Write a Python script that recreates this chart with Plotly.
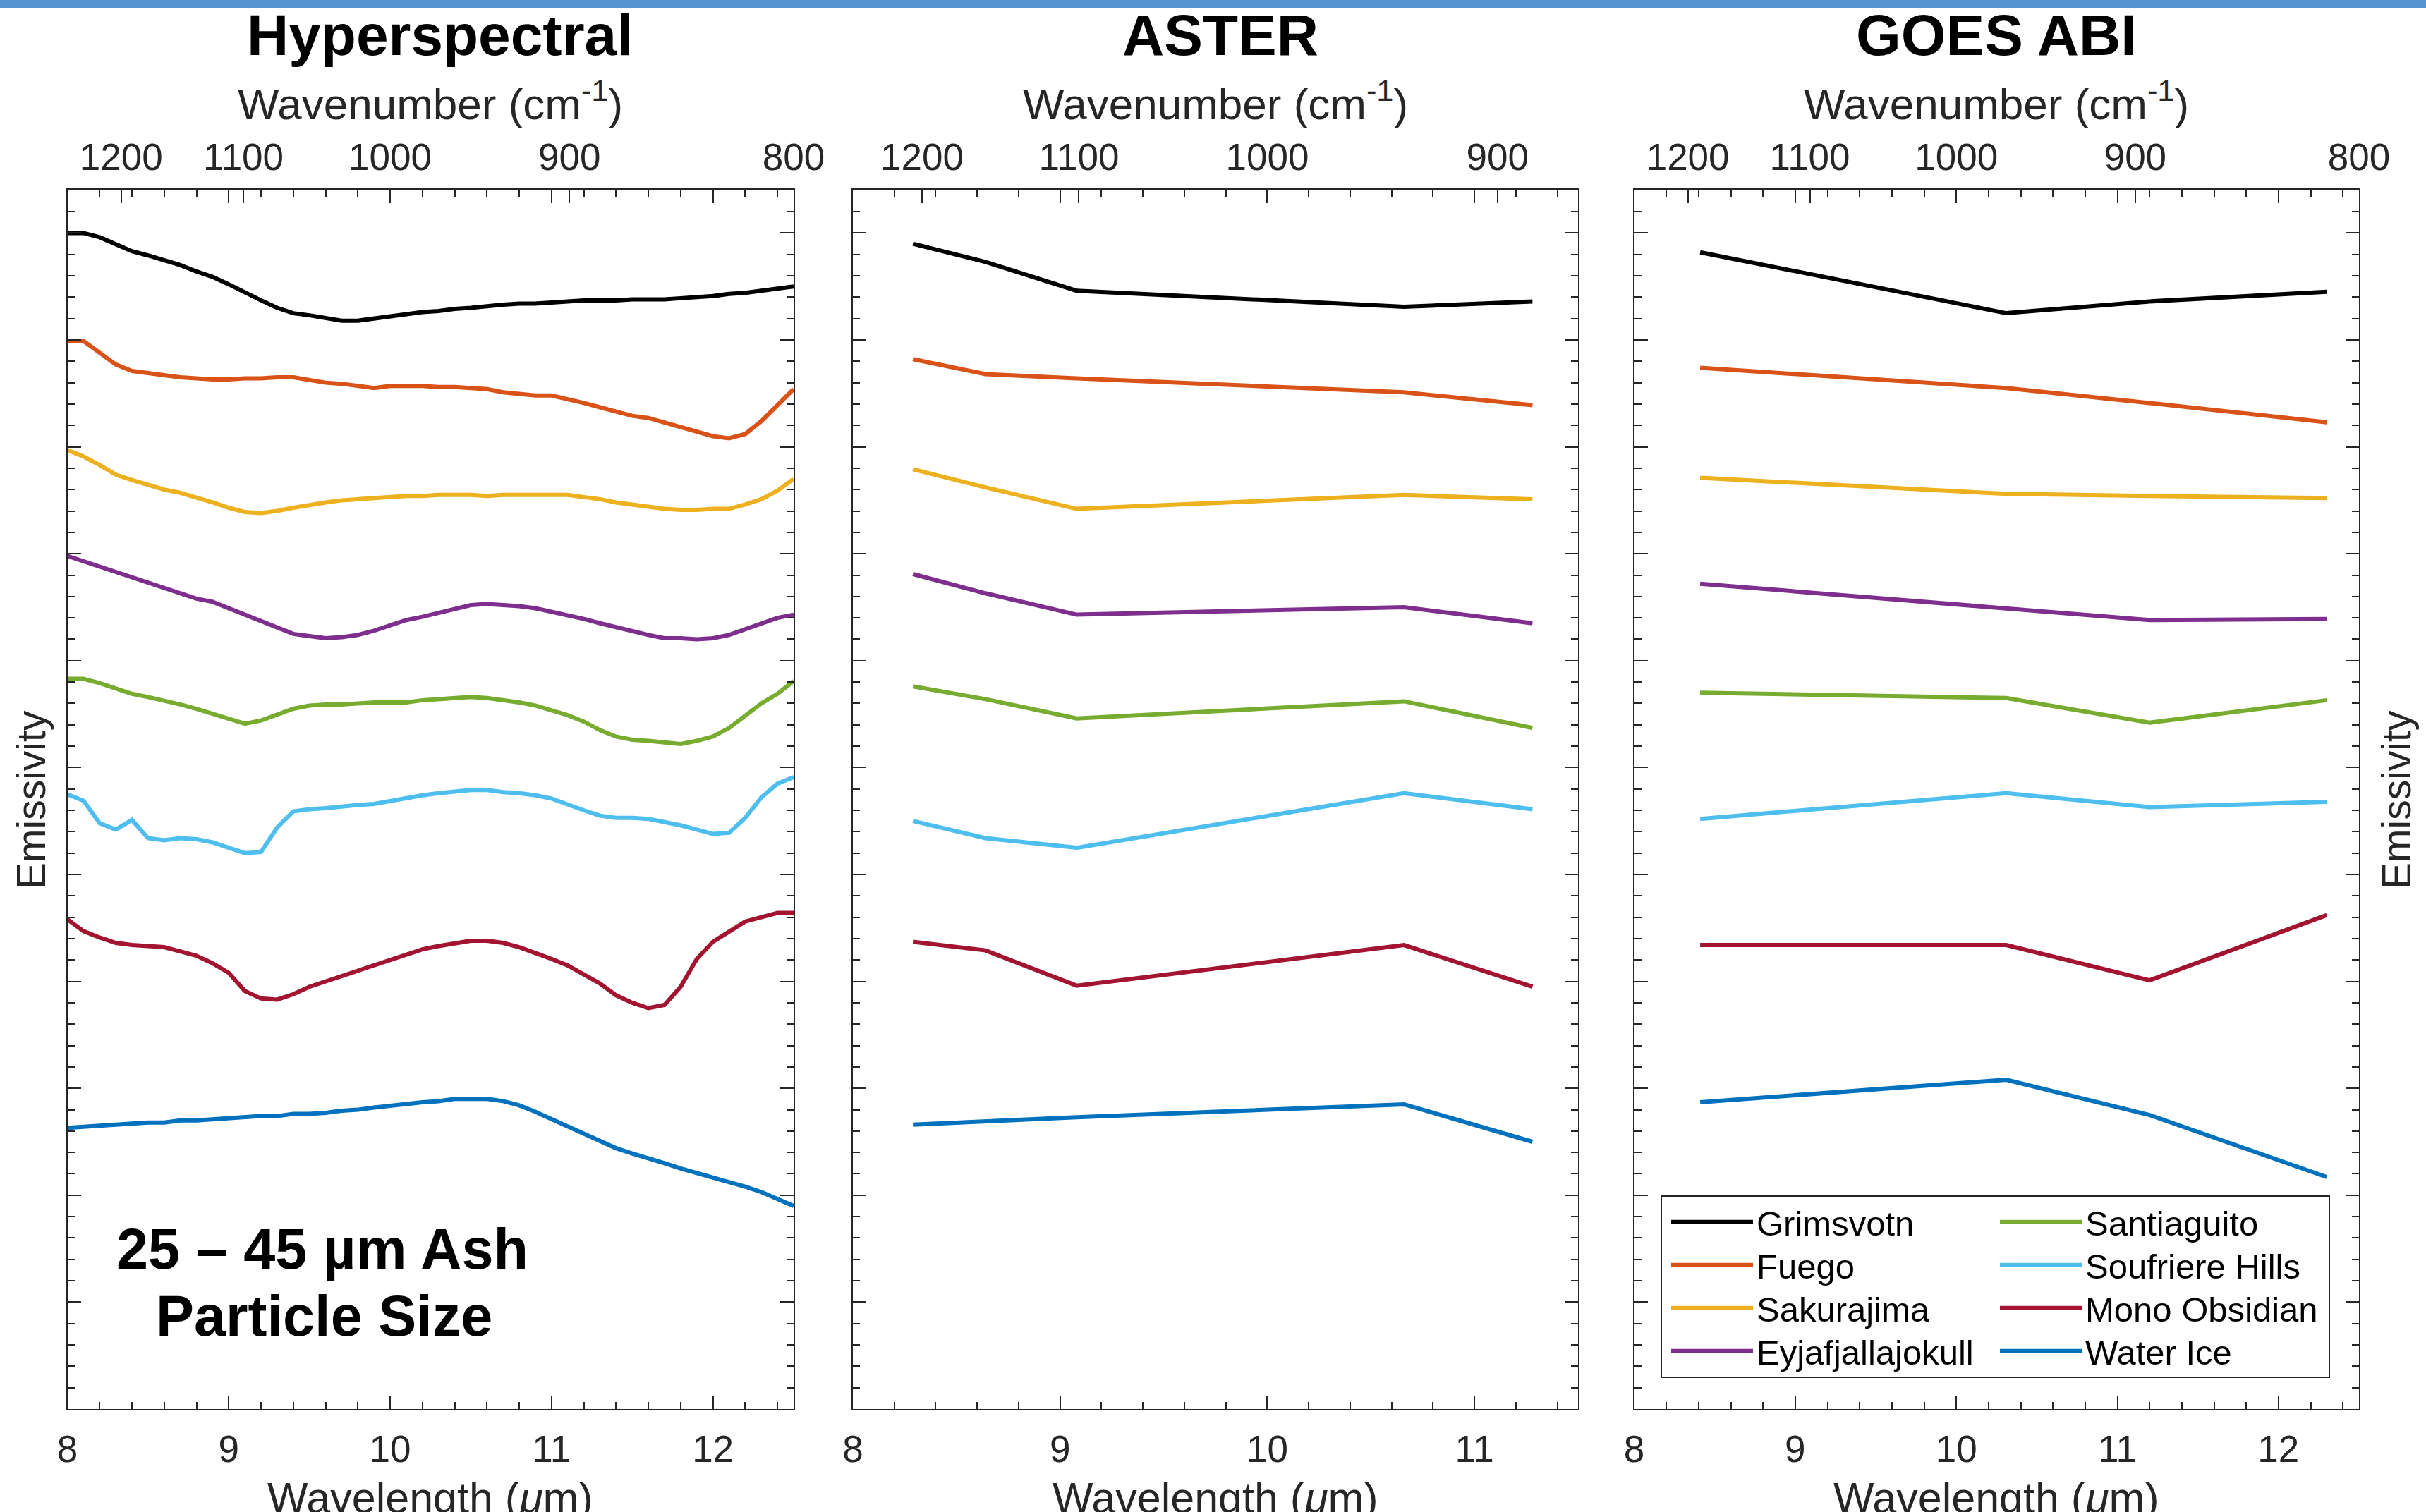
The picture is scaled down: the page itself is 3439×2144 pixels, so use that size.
import plotly.graph_objects as go

W, H = 3439, 2144
FONT = "Liberation Sans, Arial, Helvetica, sans-serif"
INK = "#262626"

# ---------------- data ----------------
names = ["Grimsvotn", "Fuego", "Sakurajima", "Eyjafjallajokull",
         "Santiaguito", "Soufriere Hills", "Mono Obsidian", "Water Ice"]
colors = ["#000000", "#D95319", "#EDB120", "#7E2F8E",
          "#77AC30", "#4DBEEE", "#A2142F", "#0072BD"]

panel_titles = ["Hyperspectral", "ASTER", "GOES ABI"]
wavenumber_ticks = [1200, 1100, 1000, 900, 800]

lam_hyper = [8.0, 8.1, 8.2, 8.3, 8.4, 8.5, 8.6, 8.7, 8.8, 8.9,
             9.0, 9.1, 9.2, 9.3, 9.4, 9.5, 9.6, 9.7, 9.8, 9.9,
             10.0, 10.1, 10.2, 10.3, 10.4, 10.5, 10.6, 10.7, 10.8, 10.9,
             11.0, 11.1, 11.2, 11.3, 11.4, 11.5, 11.6, 11.7, 11.8, 11.9,
             12.0, 12.1, 12.2, 12.3, 12.4, 12.5]

hyper_grimsvotn = [1.100, 1.100, 1.096, 1.089, 1.083, 1.079, 1.075, 1.070, 1.064, 1.059,
                   1.052, 1.044, 1.037, 1.030, 1.025, 1.023, 1.020, 1.018, 1.018, 1.020,
                   1.022, 1.024, 1.026, 1.027, 1.029, 1.030, 1.032, 1.033, 1.034, 1.034,
                   1.035, 1.036, 1.037, 1.037, 1.037, 1.038, 1.038, 1.038, 1.039, 1.040,
                   1.041, 1.043, 1.044, 1.046, 1.048, 1.050]
hyper_fuego = [0.999, 0.999, 0.988, 0.977, 0.971, 0.969, 0.967, 0.965, 0.964, 0.963,
               0.963, 0.964, 0.964, 0.965, 0.965, 0.962, 0.960, 0.959, 0.957, 0.955,
               0.957, 0.957, 0.957, 0.956, 0.956, 0.955, 0.954, 0.951, 0.949, 0.948,
               0.948, 0.945, 0.941, 0.937, 0.933, 0.929, 0.927, 0.923, 0.919, 0.914,
               0.910, 0.908, 0.912, 0.924, 0.939, 0.954]
hyper_sakurajima = [0.897, 0.891, 0.883, 0.874, 0.869, 0.864, 0.860, 0.857, 0.853, 0.848,
                    0.843, 0.839, 0.838, 0.840, 0.843, 0.846, 0.848, 0.850, 0.851, 0.852,
                    0.853, 0.854, 0.854, 0.855, 0.855, 0.855, 0.854, 0.855, 0.855, 0.855,
                    0.855, 0.855, 0.853, 0.851, 0.848, 0.846, 0.844, 0.842, 0.841, 0.841,
                    0.842, 0.842, 0.846, 0.851, 0.859, 0.870]
hyper_eyjafjallajokull = [0.798, 0.793, 0.788, 0.782, 0.777, 0.772, 0.767, 0.762, 0.758, 0.755,
                          0.749, 0.743, 0.736, 0.730, 0.725, 0.723, 0.721, 0.722, 0.724, 0.728,
                          0.733, 0.738, 0.741, 0.745, 0.749, 0.752, 0.753, 0.752, 0.751, 0.749,
                          0.746, 0.743, 0.739, 0.735, 0.731, 0.727, 0.724, 0.721, 0.721, 0.720,
                          0.721, 0.724, 0.729, 0.735, 0.740, 0.743]
hyper_santiaguito = [0.683, 0.683, 0.679, 0.674, 0.669, 0.666, 0.663, 0.659, 0.655, 0.650,
                     0.645, 0.641, 0.644, 0.650, 0.655, 0.658, 0.659, 0.659, 0.660, 0.661,
                     0.661, 0.661, 0.663, 0.664, 0.665, 0.666, 0.665, 0.663, 0.661, 0.658,
                     0.654, 0.649, 0.643, 0.635, 0.629, 0.626, 0.625, 0.623, 0.622, 0.625,
                     0.629, 0.637, 0.648, 0.660, 0.669, 0.681]
hyper_soufriere = [0.575, 0.569, 0.548, 0.542, 0.551, 0.534, 0.532, 0.534, 0.533, 0.530,
                   0.525, 0.520, 0.521, 0.544, 0.559, 0.561, 0.562, 0.564, 0.565, 0.566,
                   0.569, 0.571, 0.574, 0.576, 0.578, 0.579, 0.579, 0.577, 0.576, 0.574,
                   0.571, 0.565, 0.560, 0.555, 0.553, 0.553, 0.552, 0.549, 0.546, 0.542,
                   0.538, 0.539, 0.553, 0.572, 0.585, 0.591]
hyper_mono = [0.458, 0.447, 0.441, 0.436, 0.434, 0.433, 0.432, 0.428, 0.424, 0.417,
              0.408, 0.391, 0.384, 0.383, 0.388, 0.395, 0.400, 0.405, 0.410, 0.415,
              0.421, 0.425, 0.430, 0.433, 0.436, 0.438, 0.438, 0.436, 0.432, 0.427,
              0.421, 0.415, 0.406, 0.398, 0.387, 0.380, 0.375, 0.378, 0.395, 0.421,
              0.437, 0.447, 0.456, 0.460, 0.464, 0.464]
hyper_water = [0.263, 0.264, 0.265, 0.266, 0.267, 0.268, 0.268, 0.270, 0.270, 0.271,
               0.272, 0.273, 0.274, 0.274, 0.276, 0.276, 0.277, 0.279, 0.280, 0.282,
               0.284, 0.285, 0.287, 0.288, 0.290, 0.290, 0.290, 0.288, 0.284, 0.278,
               0.271, 0.264, 0.257, 0.250, 0.244, 0.239, 0.235, 0.230, 0.225, 0.221,
               0.217, 0.212, 0.208, 0.203, 0.196, 0.190]

lam_aster = [8.29, 8.64, 9.08, 10.66, 11.28]
aster_grimsvotn = [1.090, 1.073, 1.046, 1.031, 1.036]
aster_fuego = [0.982, 0.968, 0.964, 0.951, 0.939]
aster_sakurajima = [0.879, 0.862, 0.842, 0.855, 0.851]
aster_eyjafjallajokull = [0.781, 0.763, 0.743, 0.750, 0.735]
aster_santiaguito = [0.676, 0.664, 0.646, 0.662, 0.637]
aster_soufriere = [0.550, 0.534, 0.525, 0.576, 0.561]
aster_mono = [0.437, 0.429, 0.396, 0.434, 0.395]
aster_water = [0.266, 0.269, 0.273, 0.285, 0.250]

lam_goes = [8.41, 10.31, 11.20, 12.30]
goes_grimsvotn = [1.082, 1.025, 1.036, 1.045]
goes_fuego = [0.974, 0.955, 0.941, 0.923]
goes_sakurajima = [0.871, 0.856, 0.854, 0.852]
goes_eyjafjallajokull = [0.772, 0.749, 0.738, 0.739]
goes_santiaguito = [0.670, 0.665, 0.642, 0.663]
goes_soufriere = [0.552, 0.576, 0.563, 0.568]
goes_mono = [0.434, 0.434, 0.401, 0.462]
goes_water = [0.287, 0.308, 0.275, 0.217]

hyper_series = [hyper_grimsvotn, hyper_fuego, hyper_sakurajima, hyper_eyjafjallajokull,
                hyper_santiaguito, hyper_soufriere, hyper_mono, hyper_water]
aster_series = [aster_grimsvotn, aster_fuego, aster_sakurajima, aster_eyjafjallajokull,
                aster_santiaguito, aster_soufriere, aster_mono, aster_water]
goes_series = [goes_grimsvotn, goes_fuego, goes_sakurajima, goes_eyjafjallajokull,
               goes_santiaguito, goes_soufriere, goes_mono, goes_water]

# ---------------- layout geometry (pixels) ----------------
def px(x):
    return x / W


def py(y):
    return 1 - y / H


panel_px = [(95.5, 1125.0), (1209.0, 2237.0), (2316.5, 3344.0)]
title_cx = [623, 1730, 2830]
x_ranges = [[8, 12.5], [8, 11.5], [8, 12.5]]
plot_top, plot_bot = 269.0, 1998.0
y_range = [0, 1.1405]

legend_col_x = [2364, 2830]
legend_row_y = [1733, 1794, 1855, 1916]

fig = go.Figure()

panels = [(lam_hyper, hyper_series), (lam_aster, aster_series), (lam_goes, goes_series)]
for p, (lam, series) in enumerate(panels):
    xa = "x" if p == 0 else f"x{p + 1}"
    ya = "y" if p == 0 else f"y{p + 1}"
    for i, (nm, col, vals) in enumerate(zip(names, colors, series)):
        fig.add_trace(go.Scatter(
            x=lam, y=vals, mode="lines", name=nm,
            line=dict(color=col, width=6),
            xaxis=xa, yaxis=ya,
            showlegend=(p == 2),
            legend="legend" if i == 0 else f"legend{i + 1}",
            hoverinfo="skip",
        ))
    # empty helper trace so the top (wavenumber) axis of this panel is drawn
    fig.add_trace(go.Scatter(
        x=[None], y=[None], mode="lines", showlegend=False, hoverinfo="skip",
        xaxis=f"x{p + 4}", yaxis=ya,
    ))

axis_common = dict(
    showline=True, linecolor=INK, linewidth=2, mirror="ticks",
    ticks="inside", ticklen=19, tickwidth=2, tickcolor=INK,
    showgrid=False, zeroline=False,
    tickfont=dict(family=FONT, size=53, color=INK),
)

layout = dict(
    width=W, height=H,
    margin=dict(l=0, r=0, t=0, b=0, autoexpand=False),
    paper_bgcolor="white", plot_bgcolor="white",
    font=dict(family=FONT, color=INK),
)

for p in range(3):
    sfx = "" if p == 0 else str(p + 1)
    x0, x1 = panel_px[p]
    layout[f"xaxis{sfx}"] = dict(
        axis_common,
        domain=[px(x0), px(x1)], range=x_ranges[p],
        anchor=f"y{sfx}", dtick=1, tick0=8, ticklabelstandoff=9,
        minor=dict(dtick=0.2, ticklen=10, tickwidth=1.5, tickcolor=INK, ticks="inside"),
    )
    layout[f"yaxis{sfx}"] = dict(
        axis_common,
        domain=[py(plot_bot), py(plot_top)], range=y_range,
        anchor=f"x{sfx}", dtick=0.1, tick0=0, showticklabels=False,
        minor=dict(dtick=0.02, ticklen=10, tickwidth=1.5, tickcolor=INK, ticks="inside"),
    )
    # top wavenumber axis
    top_id = p + 4
    tickvals = [10000.0 / wn for wn in wavenumber_ticks]
    layout[f"xaxis{top_id}"] = dict(
        overlaying=f"x{sfx}", anchor=f"y{sfx}", side="top",
        range=x_ranges[p], tickmode="array",
        tickvals=tickvals, ticktext=[str(wn) for wn in wavenumber_ticks],
        ticks="inside", ticklen=19, tickwidth=2, tickcolor=INK,
        showline=False, showgrid=False, zeroline=False, ticklabelstandoff=16,
        tickfont=dict(family=FONT, size=53, color=INK),
    )

# one single-entry legend per series, laid out in two columns inside a framed box
for i in range(len(names)):
    key = "legend" if i == 0 else f"legend{i + 1}"
    layout[key] = dict(
        bgcolor="rgba(0,0,0,0)", borderwidth=0,
        font=dict(family=FONT, size=49, color="#000000"),
        xanchor="left", yanchor="middle", itemwidth=116,
        x=px(legend_col_x[i // 4]), y=py(legend_row_y[i % 4]),
    )

fig.update_layout(**layout)

fig.add_shape(type="rect", xref="paper", yref="paper",
              x0=px(2355), x1=px(3302), y0=py(1953), y1=py(1696),
              line=dict(color=INK, width=2), fillcolor="white", layer="below")

# top blue banner
fig.add_shape(type="rect", xref="paper", yref="paper",
              x0=0, x1=1, y0=py(12), y1=1,
              line=dict(width=0), fillcolor="#5592CE", layer="above")

ann = []
for p in range(3):
    cx = (panel_px[p][0] + panel_px[p][1]) / 2
    ann.append(dict(text=f"<b>{panel_titles[p]}</b>", x=px(title_cx[p]), y=py(50),
                    font=dict(family=FONT, size=82, color="#000000")))
    ann.append(dict(text="Wavenumber (cm<sup>-1</sup>)", x=px(cx), y=py(143),
                    font=dict(family=FONT, size=62, color=INK)))
    ann.append(dict(text="Wavelength (<i>μ</i>m)", x=px(cx), y=py(2124),
                    font=dict(family=FONT, size=61, color=INK)))
ann.append(dict(text="Emissivity", x=px(44), y=py(1134), textangle=-90,
                font=dict(family=FONT, size=57, color=INK)))
ann.append(dict(text="Emissivity", x=px(3397), y=py(1134), textangle=-90,
                font=dict(family=FONT, size=57, color=INK)))
ann.append(dict(text="<b>25 – 45 µm Ash</b>", x=px(457), y=py(1771),
                font=dict(family=FONT, size=81, color="#000000")))
ann.append(dict(text="<b>Particle Size</b>", x=px(459), y=py(1866),
                font=dict(family=FONT, size=81, color="#000000")))
for a in ann:
    a.update(xref="paper", yref="paper", showarrow=False,
             xanchor="center", yanchor="middle")
fig.update_layout(annotations=ann)

fig.write_html("out.html", config={"displayModeBar": False},
               post_script="document.body.style.margin='0px';")
